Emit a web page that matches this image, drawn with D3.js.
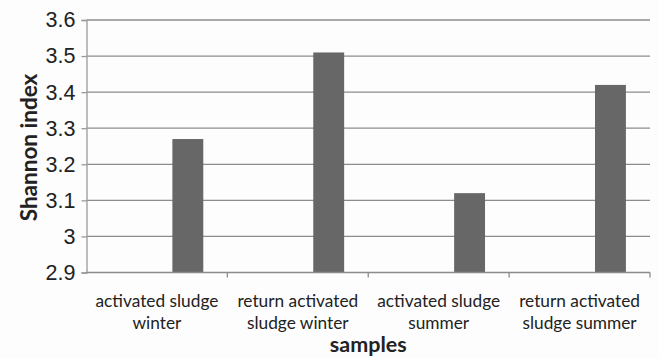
<!DOCTYPE html>
<html>
<head>
<meta charset="utf-8">
<script src="https://cdn.jsdelivr.net/npm/d3@7/dist/d3.min.js"></script>
<style>
  html, body { margin: 0; padding: 0; background: #fdfdfd; }
  svg { display: block; font-family: Lato, "Open Sans", sans-serif; }
</style>
</head>
<body>
<svg id="chart" width="659" height="358"></svg>
<script>
// Shannon diversity index per sample
const categories = [
  ["activated sludge", "winter"],
  ["return activated", "sludge winter"],
  ["activated sludge", "summer"],
  ["return activated", "sludge summer"]
];
const shannon = [3.27, 3.51, 3.12, 3.42];
const yTicks = [2.9, 3, 3.1, 3.2, 3.3, 3.4, 3.5, 3.6];
const seriesSlots = [0, 1, 2]; // clustered layout; values occupy the last slot

const svg = d3.select("#chart");
const margin = { left: 86.5, right: 9, top: 20, bottom: 85.5 };
const W = +svg.attr("width"), H = +svg.attr("height");
const innerW = W - margin.left - margin.right;
const innerH = H - margin.top - margin.bottom;

const g = svg.append("g").attr("transform", `translate(${margin.left},${margin.top})`);

const x = d3.scaleBand().domain(d3.range(categories.length)).range([0, innerW]);
const xs = d3.scaleBand().domain(seriesSlots).range([0, x.bandwidth()]).paddingOuter(0.78).paddingInner(0);
const y = d3.scaleLinear().domain([2.9, 3.6]).range([innerH, 0]);

// horizontal gridlines
g.append("g").selectAll("line").data(yTicks.slice(1)).join("line")
  .attr("x1", 0).attr("x2", innerW)
  .attr("y1", d => y(d)).attr("y2", d => y(d))
  .attr("stroke", "#8c8c8c").attr("stroke-width", 1.3);

// bars
g.append("g").selectAll("rect").data(shannon).join("rect")
  .attr("x", (d, i) => x(i) + xs(2))
  .attr("width", xs.bandwidth())
  .attr("y", d => y(d))
  .attr("height", d => innerH - y(d))
  .attr("fill", "#676767");

// y axis
const yAxis = g.append("g")
  .call(d3.axisLeft(y).tickValues(yTicks).tickSize(5).tickPadding(6)
    .tickFormat(d => d3.format("")(+d.toFixed(1))));
yAxis.select(".domain").attr("stroke", "#9a9a9a").attr("stroke-width", 1.3);
yAxis.selectAll(".tick line").attr("stroke", "#9a9a9a").attr("stroke-width", 1.3);
yAxis.selectAll("text").attr("font-size", 21.5).attr("fill", "#222");

// x axis baseline and category boundary ticks
g.append("line").attr("x1", 0).attr("x2", innerW).attr("y1", innerH).attr("y2", innerH)
  .attr("stroke", "#8c8c8c").attr("stroke-width", 1.3);
g.append("g").selectAll("line").data(d3.range(1, categories.length + 1)).join("line")
  .attr("x1", i => i < categories.length ? x(i) : innerW)
  .attr("x2", i => i < categories.length ? x(i) : innerW)
  .attr("y1", innerH).attr("y2", innerH + 5)
  .attr("stroke", "#8c8c8c").attr("stroke-width", 1.3);

// category labels (two lines each)
const labels = g.append("g").selectAll("text").data(categories).join("text")
  .attr("x", (d, i) => x(i) + x.bandwidth() / 2)
  .attr("y", innerH + 34)
  .attr("text-anchor", "middle")
  .attr("font-size", 17.3)
  .attr("fill", "#222");
labels.selectAll("tspan").data(d => d).join("tspan")
  .attr("x", function () { return d3.select(this.parentNode).attr("x"); })
  .attr("dy", (d, i) => i === 0 ? 0 : 22)
  .text(d => d);

// axis titles
svg.append("text")
  .attr("x", margin.left + innerW / 2).attr("y", 352)
  .attr("text-anchor", "middle").attr("font-size", 21.5).attr("font-weight", "bold")
  .attr("fill", "#222").text("samples");
svg.append("text")
  .attr("transform", `translate(37,147.5) rotate(-90)`)
  .attr("text-anchor", "middle").attr("font-size", 22.5).attr("font-weight", "bold")
  .attr("fill", "#222").text("Shannon index");
</script>
</body>
</html>
